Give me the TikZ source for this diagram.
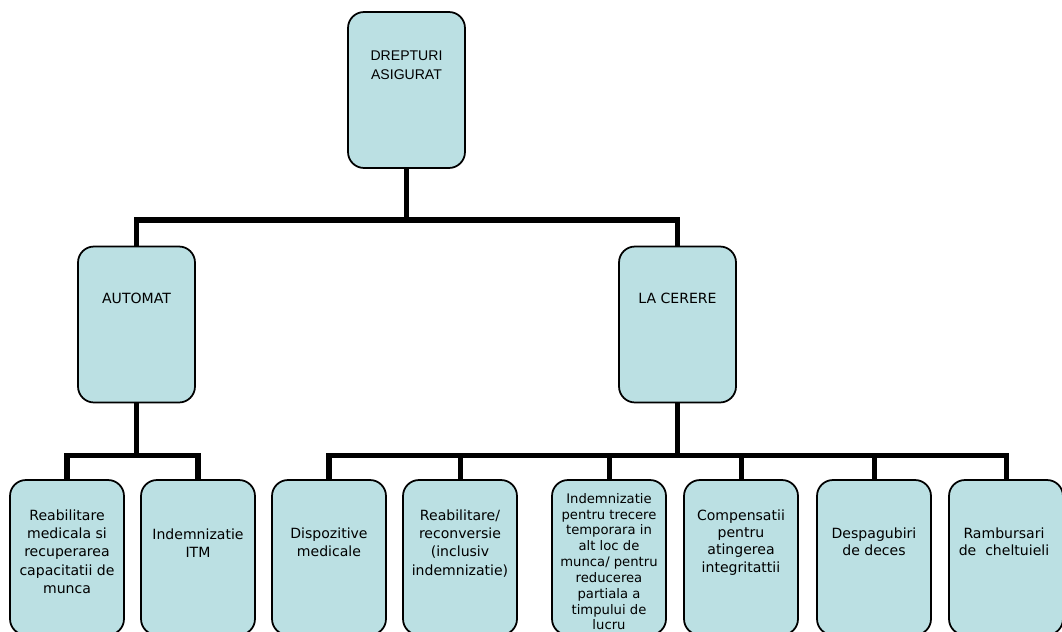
\documentclass[tikz,border=0pt]{standalone}
\usepackage{fontspec}
\setmainfont{DejaVu Sans}
\newfontfamily\arialfont{Liberation Sans}
\usepackage{tikz}

\definecolor{boxfill}{RGB}{187,224,227}

\begin{document}
\begin{tikzpicture}[x=0.02cm, y=-0.02cm,
		box/.style = {draw, line width=1pt, fill=boxfill, rounded corners=0.32cm, minimum width=2.34cm, minimum height=3.12cm, inner sep=0pt},
		leafbox/.style = {box, minimum width=2.28cm, minimum height=3.1cm},
		txt/.style = {anchor=north, align=center, inner sep=0pt, font=\fontsize{8}{10.5}\selectfont},
		link/.style = {line width=2.85pt}]
		\clip (0,0) rectangle (1062,632);

		% boxes
		\node[box] (root) at (406.5,90) {};
		\node[box] (auto) at (136.5,324.5) {};
		\node[box] (cerere) at (677.5,324.5) {};
		\foreach \name/\x in {b1/67, b2/198, b3/329, b4/460, b5/609, b6/741, b7/874, b8/1006}
			\node[leafbox] (\name) at (\x,557.5) {};

		% connectors
		\coordinate (j0) at (406.5,220);
		\coordinate (j1) at (136.5,455);
		\coordinate (j2) at (677.5,455);
		\draw[link] (root.south) -- (j0);
		\draw[link] (auto.north) |- (j0) -| (cerere.north);
		\draw[link] (auto.south) -- (j1);
		\draw[link] (b1.north) |- (j1) -| (b2.north);
		\draw[link] (cerere.south) -- (j2);
		\draw[link] (b3.north) |- (j2) -| (b8.north);
		\foreach \name in {b4, b5, b6, b7}
			\draw[link] (\name.north) -- (\name.north |- j2);

		% labels
		\node[txt, font=\arialfont\fontsize{8}{11}\selectfont] (troot) at (406.5,50) {DREPTURI\\ASIGURAT};
		\node[txt] (tauto) at (136.5,293) {AUTOMAT};
		\node[txt] (tcerere) at (677.5,293) {LA CERERE};
		\node[txt] (t1) at (67,509) {Reabilitare\\medicala si\\recuperarea\\capacitatii de\\munca};
		\node[txt] (t2) at (198,528) {Indemnizatie\\ITM};
		\node[txt] (t3) at (329,527) {Dispozitive\\medicale};
		\node[txt] (t4) at (460,509) {Reabilitare/\\reconversie\\(inclusiv\\indemnizatie)};
		\node[txt, font=\fontsize{7.5}{9}\selectfont] (t5) at (609,493) {Indemnizatie\\pentru trecere\\temporara in\\alt loc de\\munca/ pentru\\reducerea\\partiala a\\timpului de\\lucru};
		\node[txt, font=\fontsize{8}{9.9}\selectfont] (t6) at (741,509) {Compensatii\\pentru\\atingerea\\integritattii};
		\node[txt, font=\fontsize{8}{9.9}\selectfont] (t7) at (874,527) {Despagubiri\\de deces};
		\node[txt, font=\fontsize{8}{9.9}\selectfont] (t8) at (1004,527) {Rambursari\\de\ \ cheltuieli};
	\end{tikzpicture}
\end{document}
